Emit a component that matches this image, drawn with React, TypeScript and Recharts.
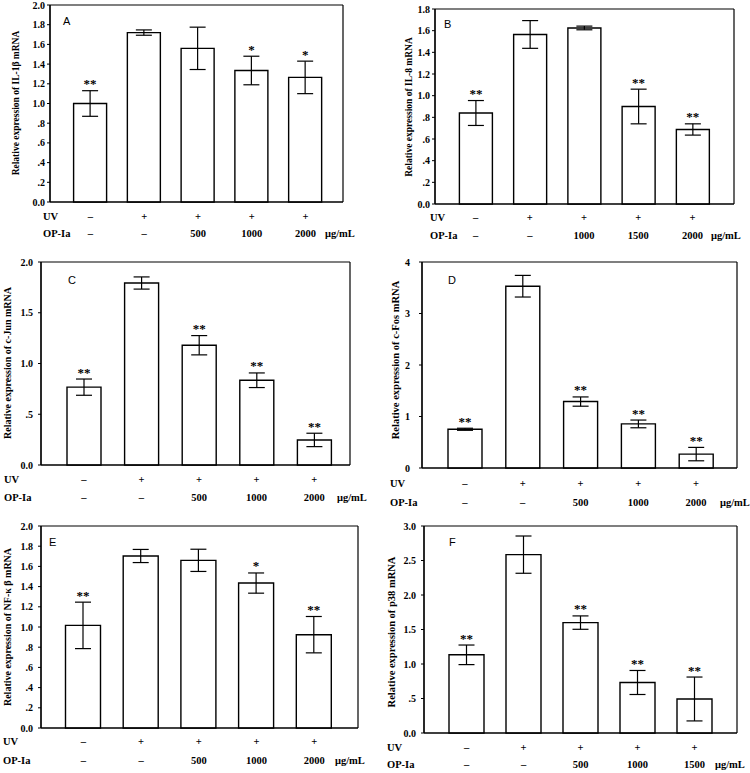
import React from 'react'
import { BarChart, Bar, XAxis, YAxis, CartesianGrid, ErrorBar, LabelList } from 'recharts'

// treatment rows under each panel
const uvSigns = ['–', '+', '+', '+', '+']
const dosesStd = ['–', '–', '500', '1000', '2000']
const dosesB = ['–', '–', '1000', '1500', '2000']
const dosesF = ['–', '–', '500', '1000', '1500']

// A: IL-1β
const il1bMean = [1.0, 1.72, 1.56, 1.335, 1.265]
const il1bErr = [0.13, 0.027, 0.215, 0.145, 0.165]
const il1bStars = ['**', '', '', '*', '*']

// B: IL-8
const il8Mean = [0.84, 1.565, 1.625, 0.9, 0.688]
const il8Err = [0.115, 0.128, 0.017, 0.16, 0.052]
const il8Stars = ['**', '', '', '**', '**']

// C: c-Jun
const cjunMean = [0.767, 1.793, 1.18, 0.835, 0.247]
const cjunErr = [0.08, 0.06, 0.095, 0.072, 0.066]
const cjunStars = ['**', '', '**', '**', '**']

// D: c-Fos
const cfosMean = [0.752, 3.53, 1.29, 0.856, 0.27]
const cfosErr = [0.02, 0.21, 0.09, 0.075, 0.13]
const cfosStars = ['**', '', '**', '**', '**']

// E: NF-κβ
const nfkbMean = [1.016, 1.703, 1.66, 1.435, 0.924]
const nfkbErr = [0.23, 0.065, 0.11, 0.1, 0.18]
const nfkbStars = ['**', '', '', '*', '**']

// F: p38
const p38Mean = [1.133, 2.585, 1.6, 0.732, 0.493]
const p38Err = [0.142, 0.27, 0.097, 0.174, 0.318]
const p38Stars = ['**', '', '**', '**', '**']

const ticks0to2 = [0, 0.2, 0.4, 0.6, 0.8, 1.0, 1.2, 1.4, 1.6, 1.8, 2.0]
const ticks0to18 = [0, 0.2, 0.4, 0.6, 0.8, 1.0, 1.2, 1.4, 1.6, 1.8]
const ticksHalf2 = [0, 0.5, 1.0, 1.5, 2.0]
const ticksInt4 = [0, 1, 2, 3, 4]
const ticksHalf3 = [0, 0.5, 1.0, 1.5, 2.0, 2.5, 3.0]

const serif = '"Liberation Serif", "Times New Roman", serif'
const sans = '"Liberation Sans", Arial, sans-serif'

function fmt(v: number, dec: number) {
  if (dec === 0) return String(v)
  const s = v.toFixed(dec)
  return v > 0 && v < 1 ? s.slice(1) : s
}

interface PanelProps {
  x0: number
  y0: number
  h: number
  plot: { l: number; t: number; r: number; b: number }
  pad: [number, number]
  barSize: number
  title: string
  titleAt: [number, number]
  titleSize: number
  letter: string
  letterAt: [number, number]
  means: number[]
  errs: number[]
  stars: string[]
  doses: string[]
  yTicks: number[]
  dec: number
  rows: [number, number]
  rowLabelX: number
  unitX: number
  tickGap: number
}

function Panel(p: PanelProps) {
  const data = p.means.map((m, i) => ({ group: `g${i}`, mean: m, err: p.errs[i], star: p.stars[i] }))
  const xh = 36
  const bottom = p.h - p.plot.b - xh

  const renderTick = (t: any) => {
    const i = t.index ?? t.payload?.index ?? 0
    const x = t.x
    const y = t.y
    const txt = { fontFamily: serif, fontWeight: 700, fontSize: 10.5, fill: '#000' }
    return (
      <g>
        <text x={x} y={y + p.rows[0] + 3.5} textAnchor="middle" {...txt}>{uvSigns[i]}</text>
        <text x={x} y={y + p.rows[1] + 3.5} textAnchor="middle" {...txt}>{p.doses[i]}</text>
        {i === 0 && (
          <>
            <text x={p.rowLabelX} y={y + p.rows[0] + 3.5} textAnchor="start" {...txt}>UV</text>
            <text x={p.rowLabelX} y={y + p.rows[1] + 3.5} textAnchor="start" {...txt}>OP-Ia</text>
          </>
        )}
        {i === p.doses.length - 1 && (
          <text x={p.unitX} y={y + p.rows[1] + 3.5} textAnchor="start" {...txt}>μg/mL</text>
        )}
      </g>
    )
  }

  const renderStar = (lp: any) => {
    if (!lp.value) return null
    const vb = lp.viewBox ?? lp
    const i = lp.index
    const bx = Number(vb.x)
    const by = Number(vb.y)
    const bw = Number(vb.width)
    const bh = Number(vb.height)
    const top = by - (p.errs[i] * bh) / p.means[i]
    return (
      <text x={bx + bw / 2} y={top - 2.5} textAnchor="middle" fontFamily={serif} fontWeight={700} fontSize={13} fill="#000">
        {lp.value}
      </text>
    )
  }

  return (
    <div style={{ position: 'absolute', left: p.x0, top: p.y0, width: 375, height: p.h }}>
      <BarChart
        width={375}
        height={p.h}
        data={data}
        margin={{ top: p.plot.t, right: 375 - p.plot.r, bottom, left: 0 }}
      >
        <CartesianGrid
          stroke="#000"
          strokeWidth={1.2}
          horizontalCoordinatesGenerator={({ offset }: any) => [offset.top, offset.top + offset.height]}
          verticalCoordinatesGenerator={({ offset }: any) => [offset.left, offset.left + offset.width]}
        />
        <XAxis
          dataKey="group"
          height={xh}
          interval={0}
          tickLine={false}
          tickSize={0}
          tickMargin={0}
          padding={{ left: p.pad[0], right: p.pad[1] }}
          axisLine={{ stroke: '#000', strokeWidth: 1.2 }}
          tick={renderTick}
        />
        <YAxis
          type="number"
          width={p.plot.l}
          domain={[0, p.yTicks[p.yTicks.length - 1]]}
          ticks={p.yTicks}
          interval={0}
          tickSize={3}
          tickMargin={p.tickGap - 3}
          tickFormatter={(v: number) => fmt(v, p.dec)}
          axisLine={{ stroke: '#000', strokeWidth: 1.2 }}
          tickLine={{ stroke: '#000' }}
          tick={{ fontFamily: serif, fontWeight: 700, fontSize: 10, fill: '#000' }}
        />
        <Bar dataKey="mean" fill="#fff" stroke="#000" strokeWidth={1.4} barSize={p.barSize} isAnimationActive={false}>
          <ErrorBar dataKey="err" width={8} stroke="#000" strokeWidth={1.2} isAnimationActive={false} />
          <LabelList dataKey="star" content={renderStar} />
        </Bar>
      </BarChart>
      <div
        style={{
          position: 'absolute',
          left: p.titleAt[0],
          top: p.titleAt[1],
          transform: 'translate(-50%, -50%) rotate(-90deg)',
          whiteSpace: 'nowrap',
          fontFamily: serif,
          fontWeight: 700,
          fontSize: p.titleSize,
          lineHeight: 1,
          color: '#000',
        }}
      >
        {p.title}
      </div>
      <div
        style={{
          position: 'absolute',
          left: p.letterAt[0],
          top: p.letterAt[1] - 1.5,
          fontFamily: sans,
          fontSize: 11,
          lineHeight: '11px',
          color: '#000',
        }}
      >
        {p.letter}
      </div>
    </div>
  )
}

export default function App() {
  return (
    <div style={{ position: 'absolute', left: 0, top: 0, width: 750, height: 773, background: '#fff' }}>
      <Panel
        x0={0} y0={0} h={255}
        plot={{ l: 50, t: 5, r: 343, b: 202 }} pad={[13.6, 10.6]} barSize={33}
        title="Relative expression of IL-1β  mRNA" titleAt={[17, 103]} titleSize={9.5}
        letter="A" letterAt={[63, 17]}
        means={il1bMean} errs={il1bErr} stars={il1bStars} doses={dosesStd}
        yTicks={ticks0to2} dec={1} rows={[14, 31]} rowLabelX={43} unitX={325} tickGap={5}
      />
      <Panel
        x0={375} y0={0} h={255}
        plot={{ l: 60, t: 9, r: 359, b: 204 }} pad={[13.4, 14.4]} barSize={33}
        title="Relative expression of  IL-8 mRNA" titleAt={[35, 107]} titleSize={9.5}
        letter="B" letterAt={[69, 20]}
        means={il8Mean} errs={il8Err} stars={il8Stars} doses={dosesB}
        yTicks={ticks0to18} dec={1} rows={[13, 31]} rowLabelX={55} unitX={336} tickGap={5}
      />
      <Panel
        x0={0} y0={255} h={260}
        plot={{ l: 41, t: 7, r: 350, b: 210 }} pad={[14, 7]} barSize={34}
        title="Relative expression of  c-Jun mRNA" titleAt={[8, 108]} titleSize={10}
        letter="C" letterAt={[68, 21]}
        means={cjunMean} errs={cjunErr} stars={cjunStars} doses={dosesStd}
        yTicks={ticksHalf2} dec={1} rows={[14, 32]} rowLabelX={4} unitX={337} tickGap={8}
      />
      <Panel
        x0={375} y0={255} h={260}
        plot={{ l: 47, t: 7, r: 362, b: 213 }} pad={[14, 12]} barSize={34}
        title="Relative expression of  c-Fos mRNA" titleAt={[21, 105]} titleSize={10.5}
        letter="D" letterAt={[73, 21]}
        means={cfosMean} errs={cfosErr} stars={cfosStars} doses={dosesStd}
        yTicks={ticksInt4} dec={0} rows={[15, 34]} rowLabelX={15} unitX={345} tickGap={12}
      />
      <Panel
        x0={0} y0={515} h={258}
        plot={{ l: 41, t: 11, r: 358, b: 213 }} pad={[13.5, 15]} barSize={35}
        title="Relative expression of  NF-κ β mRNA" titleAt={[8, 112]} titleSize={10}
        letter="E" letterAt={[49, 23]}
        means={nfkbMean} errs={nfkbErr} stars={nfkbStars} doses={dosesStd}
        yTicks={ticks0to2} dec={1} rows={[13, 32]} rowLabelX={3} unitX={335} tickGap={8}
      />
      <Panel
        x0={375} y0={515} h={258}
        plot={{ l: 49, t: 11, r: 362, b: 218 }} pad={[14, 14]} barSize={35}
        title="Relative expression of  p38 mRNA" titleAt={[17, 117]} titleSize={10.5}
        letter="F" letterAt={[74, 23]}
        means={p38Mean} errs={p38Err} stars={p38Stars} doses={dosesF}
        yTicks={ticksHalf3} dec={1} rows={[14, 31]} rowLabelX={12} unitX={340} tickGap={8}
      />
    </div>
  )
}
